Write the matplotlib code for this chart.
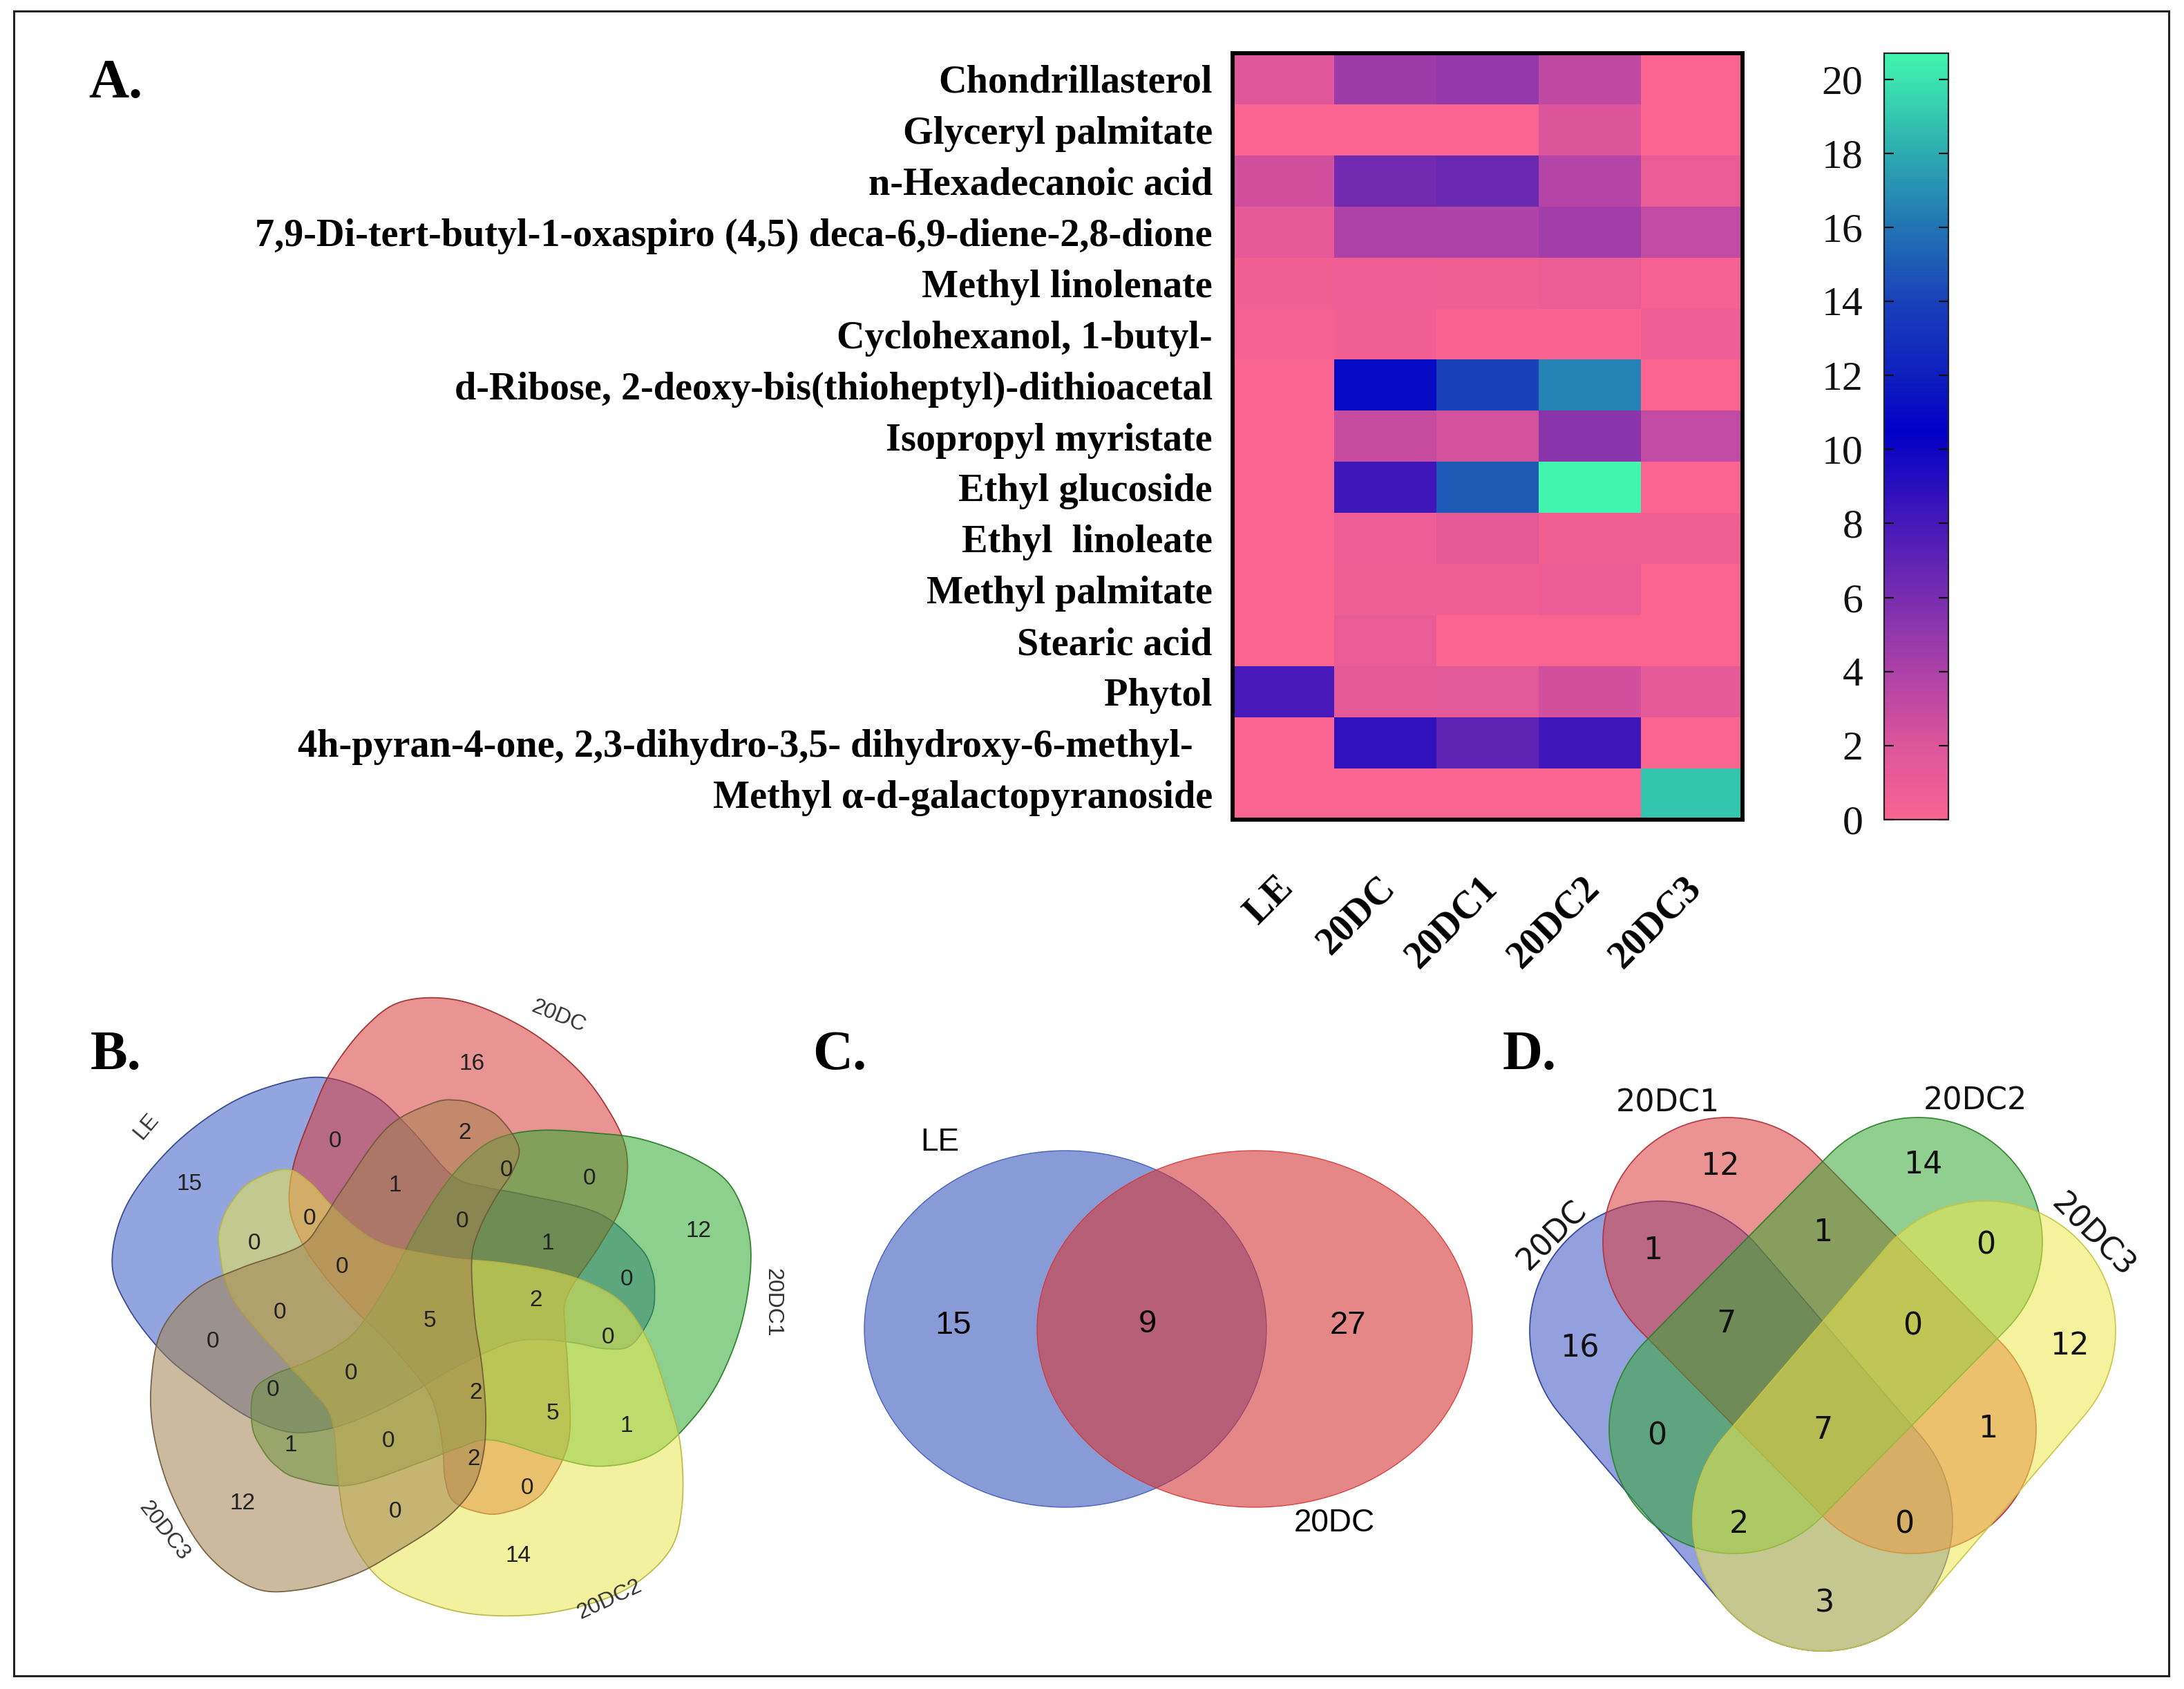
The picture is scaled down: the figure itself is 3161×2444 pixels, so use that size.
import numpy as np
import matplotlib
matplotlib.use("Agg")
import matplotlib.pyplot as plt
from matplotlib.colors import LinearSegmentedColormap, to_rgba
from matplotlib.patches import Polygon, Ellipse, Rectangle
from matplotlib.transforms import blended_transform_factory

plt.rcParams["font.family"] = ["Liberation Serif", "DejaVu Serif"]

# ---------------- data ----------------
compounds = ["Chondrillasterol", "Glyceryl palmitate", "n-Hexadecanoic acid",
             "7,9-Di-tert-butyl-1-oxaspiro (4,5) deca-6,9-diene-2,8-dione",
             "Methyl linolenate", "Cyclohexanol, 1-butyl-",
             "d-Ribose, 2-deoxy-bis(thioheptyl)-dithioacetal",
             "Isopropyl myristate", "Ethyl glucoside", "Ethyl  linoleate",
             "Methyl palmitate", "Stearic acid", "Phytol",
             "4h-pyran-4-one, 2,3-dihydro-3,5- dihydroxy-6-methyl-  ",
             "Methyl \u03b1-d-galactopyranoside"]
samples = ["LE", "20DC", "20DC1", "20DC2", "20DC3"]
val_LE    = [1.8, 0.0, 2.5, 1.3, 0.5, 0.4, 0.0, 0.0, 0.0, 0.0, 0.0, 0.0, 8.0, 0.0, 0.0]
val_20DC  = [4.6, 0.0, 6.3, 3.9, 0.8, 0.6, 11.0, 2.9, 8.3, 0.8, 0.7, 1.1, 1.4, 8.8, 0.0]
val_20DC1 = [4.9, 0.0, 6.5, 3.9, 0.7, 0.1, 14.0, 2.4, 15.0, 1.4, 0.5, 0.0, 1.5, 7.0, 0.0]
val_20DC2 = [3.2, 2.0, 3.7, 4.4, 0.9, 0.1, 16.5, 5.3, 20.7, 0.5, 0.9, 0.0, 2.5, 8.3, 0.0]
val_20DC3 = [0.0, 0.0, 1.1, 3.1, 0.4, 0.8, 0.0, 3.1, 0.0, 0.6, 0.0, 0.0, 1.3, 0.0, 19.0]
cbar_ticks = [0, 2, 4, 6, 8, 10, 12, 14, 16, 18, 20]

# Venn B (5 sets)
venn5_sets = ["LE", "20DC", "20DC1", "20DC2", "20DC3"]
venn5_counts = [16, 2, 0, 1, 0, 0, 15, 0, 0, 0, 1, 12, 0, 0, 2, 0, 5, 0, 0,
                0, 0, 2, 5, 1, 1, 0, 2, 0, 12, 0, 14]
# Venn C (2 sets)
venn2_sets = ["LE", "20DC"]
venn2_counts = [15, 9, 27]
# Venn D (4 sets)
venn4_sets = ["20DC", "20DC1", "20DC2", "20DC3"]
venn4_counts = [12, 14, 16, 12, 1, 1, 0, 7, 0, 0, 7, 1, 2, 0, 3]

# ---------------- layout ----------------
W, H = 3161, 2444
venn5_xy = [(683, 1539), (673, 1639), (485, 1651), (572, 1715), (733, 1694), (853, 1706),
            (274, 1714), (448, 1763), (669, 1767), (368, 1800), (793, 1800), (1011, 1782),
            (495, 1833), (907, 1851), (776, 1882), (405, 1900), (622, 1912), (308, 1942),
            (880, 1936), (508, 1988), (395, 2012), (689, 2015), (800, 2045), (907, 2063),
            (421, 2091), (562, 2085), (686, 2112), (763, 2154), (351, 2176), (572, 2188),
            (750, 2251)]
venn5_label_xy = [(212, 1630, 50), (808, 1471, -22), (1118, 1885, -90),
                  (882, 2315, 25), (237, 2215, -52)]
venn5_center = (618, 1900)
# template outline of one set (offsets from centre); the sets are rotated copies of it
venn5_template = [(-301, -97), (-296, -135), (-281, -163), (-255, -190), (-205, -208),
                  (-171, -190), (-138, -155), (-98, -120), (-55, -97), (32, -80),
                  (105, -73), (182, -60), (242, -40), (287, -10), (322, 45), (349, 123),
                  (367, 193), (369, 280), (349, 347), (282, 403), (182, 433), (82, 437),
                  (2, 420), (-68, 385), (-113, 320), (-128, 247), (-138, 153),
                  (-168, 110), (-208, 67), (-281, -20)]
# per set: rotation (deg, counter-clockwise), scale, shift
venn5_rot = [-144, -219, -292, 0, -76]
venn5_scale = [0.97, 0.93, 0.96, 1.0, 0.95]
venn5_shift = [(16, 0), (14, 4), (8, 6), (0, 0), (-12, -4)]
venn5_colors = ["#3A5CC4", "#D93A3A", "#2FAA2F", "#E8E650", "#A3824F"]
venn5_edges = ["#2B3F8A", "#9E2A2A", "#237A23", "#B8B640", "#6E5838"]

venn2_ellipses = [(1542, 1923, 582, 516), (1816, 1923, 630, 516)]
venn2_xy = [(1380, 1918), (1661, 1916), (1951, 1918)]
venn2_label_xy = [(1360, 1653), (1931, 2204)]
venn2_colors = ["#3A58BC", "#D53737"]

venn4_caps = [((2402, 1926), (2638, 2201), 188), ((2500, 1797), (2767, 2068), 180),
              ((2776, 1797), (2509, 2068), 180), ((2874, 1926), (2638, 2201), 188)]
venn4_colors = ["#3A52C4", "#DB3A3A", "#35A835", "#EEE84E"]
venn4_edges = ["#2A3A9A", "#B0303A", "#2A802A", "#C8C440"]
venn4_xy = [(2489, 1688), (2783, 1686), (2286, 1951), (2995, 1948), (2392, 1810),
            (2638, 1783), (2874, 1802), (2498, 1916), (2768, 1919), (2398, 2078),
            (2638, 2070), (2877, 2068), (2517, 2206), (2756, 2206), (2641, 2320)]
venn4_label_xy = [(2247, 1788, 45), (2414, 1596, 0), (2859, 1593, 0), (3029, 1788, -45)]

# ---------------- helpers ----------------
def smooth_closed(pts, n=24):
    P = np.asarray(pts, float)
    N = len(P)
    out = []
    t = np.linspace(0, 1, n, endpoint=False)[:, None]
    for i in range(N):
        p0, p1, p2, p3 = P[(i - 1) % N], P[i], P[(i + 1) % N], P[(i + 2) % N]
        out.append(0.5 * (2 * p1 + (p2 - p0) * t + (2 * p0 - 5 * p1 + 4 * p2 - p3) * t ** 2
                          + (-p0 + 3 * p1 - 3 * p2 + p3) * t ** 3))
    return np.vstack(out)


def rotate(pts, phi_deg, center, scale=1.0, shift=(0, 0)):
    phi = np.deg2rad(phi_deg)
    d = np.asarray(pts, float)
    c, s = np.cos(phi), np.sin(phi)
    x = d[:, 0] * c + d[:, 1] * s
    y = -d[:, 0] * s + d[:, 1] * c
    return np.c_[scale * x + center[0] + shift[0], scale * y + center[1] + shift[1]]


def capsule(c1, c2, r, n=80):
    c1 = np.asarray(c1, float)
    c2 = np.asarray(c2, float)
    base = np.arctan2(c2[1] - c1[1], c2[0] - c1[0])
    t = np.linspace(base - np.pi / 2, base + np.pi / 2, n)
    arc2 = np.c_[c2[0] + r * np.cos(t), c2[1] + r * np.sin(t)]
    arc1 = np.c_[c1[0] + r * np.cos(t + np.pi), c1[1] + r * np.sin(t + np.pi)]
    return np.vstack([arc2, arc1])


serif = "Liberation Serif"
sans = "Liberation Sans"

fig = plt.figure(figsize=(W / 100, H / 100), dpi=100)
fig.patch.set_facecolor("white")

bg = fig.add_axes([0, 0, 1, 1])
bg.set_xlim(0, W)
bg.set_ylim(H, 0)
bg.axis("off")

# outer frame
bg.add_patch(Rectangle((20, 16), 3119, 2409, fill=False, lw=2.2, ec="#222222"))

# panel letters
for lab, x, y in [("A.", 128, 141), ("B.", 131, 1547), ("C.", 1176, 1547), ("D.", 2175, 1547)]:
    bg.text(x, y, lab, fontsize=58, fontweight="bold", family=serif, ha="left",
            va="baseline", color="black")

# ---------------- heatmap ----------------
data = np.array([val_LE, val_20DC, val_20DC1, val_20DC2, val_20DC3]).T
cm_pos = [0, 2, 4, 6, 8, 10.5, 12, 14, 16, 18, 20.7]
cm_col = ["#FA6491", "#DC559B", "#AC41A8", "#782DAF", "#4619B9", "#0000C8",
          "#0F1EBE", "#1941B9", "#2273B4", "#2DAAB0", "#41F5AF"]
vmax = 20.7
cmap = LinearSegmentedColormap.from_list("hm", [(p / vmax, c) for p, c in zip(cm_pos, cm_col)])

hx0, hx1, hy0, hy1 = 1784, 2522, 77, 1186
ax = fig.add_axes([hx0 / W, 1 - hy1 / H, (hx1 - hx0) / W, (hy1 - hy0) / H])
im = ax.imshow(data, cmap=cmap, vmin=0, vmax=vmax, aspect="auto", interpolation="nearest")
ax.set_yticks(range(len(compounds)))
ax.set_yticklabels(compounds, family=serif, fontweight="bold", fontsize=40.5)
ax.tick_params(axis="y", length=0, pad=21)
ax.set_xticks([])
for sp in ax.spines.values():
    sp.set_linewidth(4.2)
    sp.set_color("black")
trans = blended_transform_factory(ax.transData, ax.transAxes)
for i, s in enumerate(samples):
    ax.text(i + 0.04, -0.082, s, transform=trans, rotation=45, ha="right", va="center",
            rotation_mode="anchor", family=serif, fontweight="bold", fontsize=40)

cx0, cx1 = 2727, 2820
cax = fig.add_axes([cx0 / W, 1 - hy1 / H, (cx1 - cx0) / W, (hy1 - hy0) / H])
cb = fig.colorbar(im, cax=cax, ticks=cbar_ticks)
cb.outline.set_linewidth(1.6)
cb.outline.set_edgecolor("#222222")
cax.yaxis.set_ticks_position("both")
cax.tick_params(axis="y", which="major", direction="in", length=10, width=1.6,
                left=True, right=True, labelleft=True, labelright=False, pad=22,
                colors="#111111")
cax.set_yticks(cbar_ticks)
cax.set_yticklabels([str(t) for t in cbar_ticks], family=serif, fontsize=43)
cax.minorticks_off()

# ---------------- Venn B ----------------
tmpl = smooth_closed(venn5_template)
for k in range(5):
    pts = rotate(tmpl, venn5_rot[k], venn5_center, venn5_scale[k], venn5_shift[k])
    bg.add_patch(Polygon(pts, closed=True, fc=to_rgba(venn5_colors[k], 0.55),
                         ec=to_rgba(venn5_edges[k], 0.9), lw=1.3))
for c, (x, y) in zip(venn5_counts, venn5_xy):
    bg.text(x, y, str(c), fontsize=24, family=sans, ha="center", va="center", color="#222222")
for name, (x, y, r) in zip(venn5_sets, venn5_label_xy):
    bg.text(x, y, name, fontsize=23, family=sans, ha="center", va="center", rotation=r,
            color="#333333", rotation_mode="anchor")

# ---------------- Venn C ----------------
for (x, y, w, h), col in zip(venn2_ellipses, venn2_colors):
    bg.add_patch(Ellipse((x, y), w, h, fc=to_rgba(col, 0.6), ec=to_rgba(col, 0.9), lw=1.0))
for c, (x, y) in zip(venn2_counts, venn2_xy):
    bg.text(x, y, str(c), fontsize=34, family=sans, ha="center", va="center", color="black")
for name, (x, y) in zip(venn2_sets, venn2_label_xy):
    bg.text(x, y, name, fontsize=33, family=sans, ha="center", va="center", color="black")

# ---------------- Venn D ----------------
for (c1, c2, r), col, ec in zip(venn4_caps, venn4_colors, venn4_edges):
    pts = capsule(c1, c2, r)
    bg.add_patch(Polygon(pts, closed=True, fc=to_rgba(col, 0.55), ec=to_rgba(ec, 0.9), lw=1.3))
for c, (x, y) in zip(venn4_counts, venn4_xy):
    bg.text(x, y, str(c), fontsize=32, family="DejaVu Sans", ha="center", va="center",
            color="#111111")
for name, (x, y, r) in zip(venn4_sets, venn4_label_xy):
    bg.text(x, y, name, fontsize=32, family="DejaVu Sans", ha="center", va="center",
            rotation=r, rotation_mode="anchor", color="#111111")

fig.savefig("out.png", dpi=100, facecolor="white")
